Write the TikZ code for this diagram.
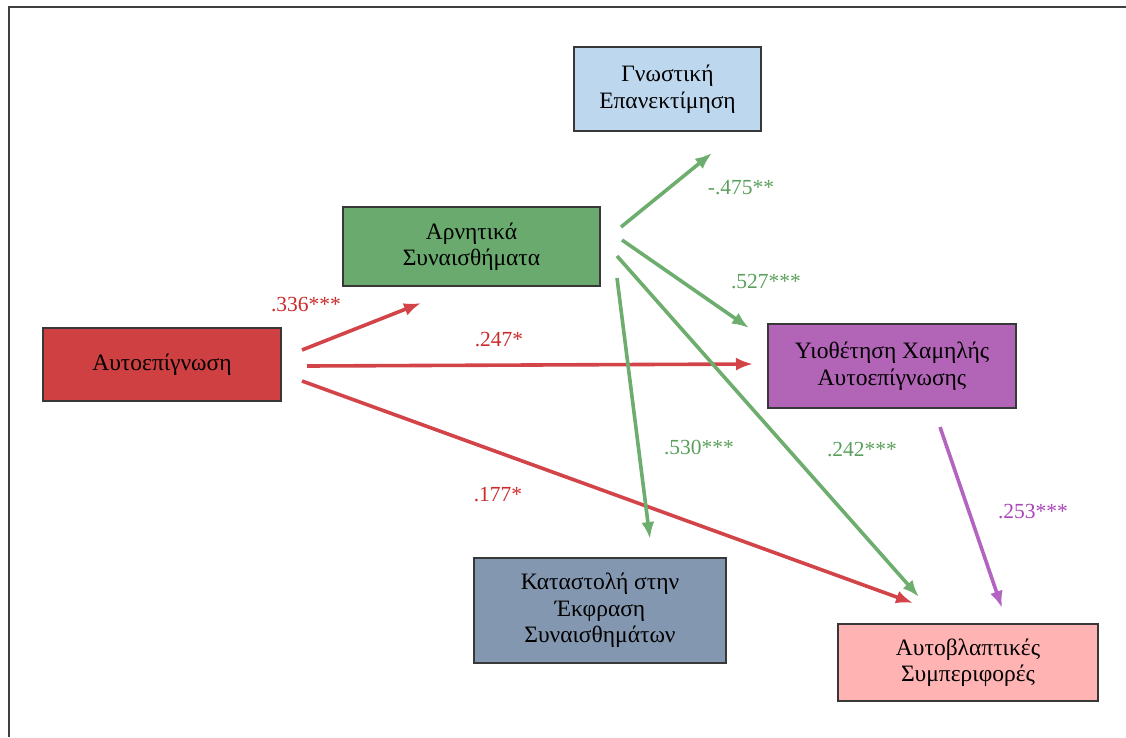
\documentclass[tikz,border=0pt]{standalone}
\usepackage{fontspec}
\setmainfont{Liberation Serif}
\usepackage{xcolor}
\usetikzlibrary{arrows.meta}
\definecolor{boxblue}{HTML}{BDD7EE}
\definecolor{boxgreen}{HTML}{6AAA6E}
\definecolor{boxred}{HTML}{CF4042}
\definecolor{boxpurple}{HTML}{B264B6}
\definecolor{boxslate}{HTML}{8497B0}
\definecolor{boxpink}{HTML}{FFB3B3}
\definecolor{arrred}{HTML}{D24448}
\definecolor{arrgreen}{HTML}{6DAE6F}
\definecolor{arrpurple}{HTML}{B264C0}
\definecolor{labred}{HTML}{CC2A2A}
\definecolor{labgreen}{HTML}{5AA05C}
\definecolor{labpurple}{HTML}{A845B8}

\begin{document}
\begin{tikzpicture}[x=1pt,y=-1pt,
box/.style={draw=black!78,line width=1.6pt,align=center,inner sep=0pt,font=\fontsize{23.5}{26.5}\selectfont},
pathline/.style={line width=3.6pt,-{Latex[length=17pt,width=13pt]}},
coef/.style={font=\fontsize{21.5}{24}\selectfont}]
\useasboundingbox(0,0)rectangle(1126,737);
\draw[line width=2.6pt,black!75](9,737)--(9,7)--(1126,7);
% variables
\node[box,fill=boxblue,minimum width=187pt,minimum height=84pt](gnw)at(667.5,89){Γνωστική\\Επανεκτίμηση};
\node[box,fill=boxgreen,minimum width=257pt,minimum height=79pt](arn)at(471.5,246.5){Αρνητικά\\Συναισθήματα};
\node[box,fill=boxred,minimum width=238pt,minimum height=73pt](aut)at(162,364.5){Αυτοεπίγνωση};
\node[box,fill=boxpurple,minimum width=248pt,minimum height=84pt](yio)at(892,366){Υιοθέτηση Χαμηλής\\Αυτοεπίγνωσης};
\node[box,fill=boxslate,minimum width=252pt,minimum height=105pt](kat)at(600,610.5){Καταστολή στην\\Έκφραση\\Συναισθημάτων};
\node[box,fill=boxpink,minimum width=260pt,minimum height=77pt](blap)at(968,662.5){Αυτοβλαπτικές\\Συμπεριφορές};
% arrow ends
\coordinate(aut1)at(302,350);\coordinate(arn0)at(421,303);
\coordinate(aut2)at(307,366);\coordinate(yio0)at(753,364);
\coordinate(aut3)at(302,381);\coordinate(blap0)at(913,603);
\coordinate(arn1)at(621,227);\coordinate(gnw0)at(712,153);
\coordinate(arn2)at(622,240);\coordinate(yio1)at(749,328);
\coordinate(arn3)at(617,256);\coordinate(blap1)at(919,597);
\coordinate(arn4)at(617,278);\coordinate(kat0)at(650,539);
\coordinate(yio2)at(940,427);\coordinate(blap2)at(1002,608);
% paths
\draw[pathline,arrred](aut1)--(arn0);
\draw[pathline,arrred](aut2)--(yio0);
\draw[pathline,arrred](aut3)--(blap0);
\draw[pathline,arrgreen](arn1)--(gnw0);
\draw[pathline,arrgreen](arn2)--(yio1);
\draw[pathline,arrgreen](arn3)--(blap1);
\draw[pathline,arrgreen](arn4)--(kat0);
\draw[pathline,arrpurple](yio2)--(blap2);
% coefficients
\node[coef,labred](c1)at(306,305){.336***};
\node[coef,labred](c2)at(499,340){.247*};
\node[coef,labred](c3)at(498,495){.177*};
\node[coef,labgreen](c4)at(741,188){-.475**};
\node[coef,labgreen](c5)at(766,282){.527***};
\node[coef,labgreen](c6)at(699,447){.530***};
\node[coef,labgreen](c7)at(862,450){.242***};
\node[coef,labpurple](c8)at(1033,512){.253***};
\end{tikzpicture}
\end{document}
